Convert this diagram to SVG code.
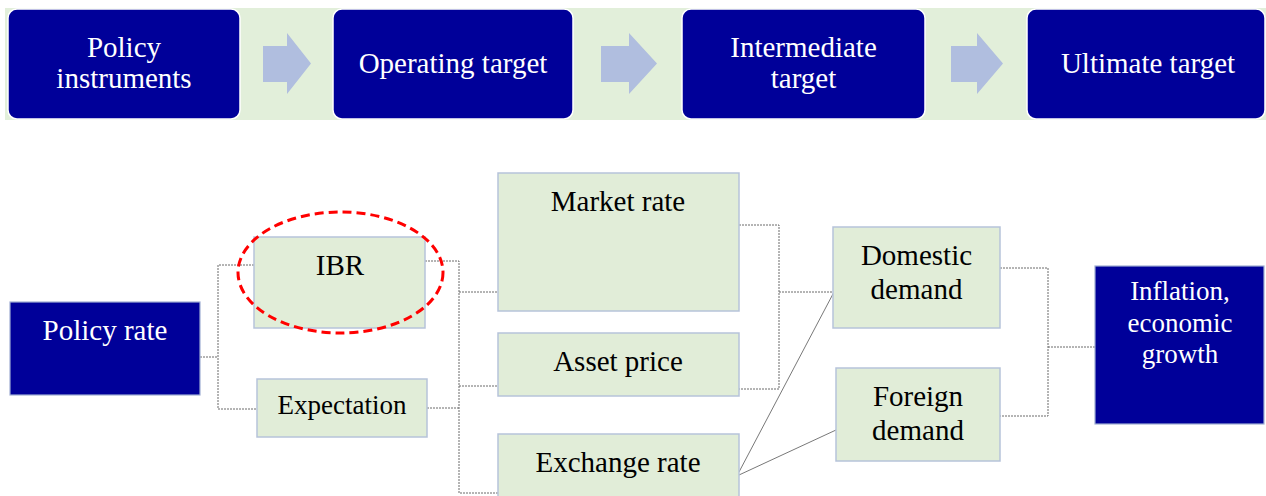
<svg xmlns="http://www.w3.org/2000/svg" width="1266" height="496" viewBox="0 0 1266 496">
  <style>
    .stage { fill: #000099; stroke: #ffffff; stroke-width: 1.5; }
    .step { fill: #b0bedf; }
    .dark { fill: #000099; stroke: #9fadd2; stroke-width: 1.2; }
    .light { fill: #e1edd8; stroke: #b6c3da; stroke-width: 1.5; }
    .wt { font-family: "Liberation Serif", "Times New Roman", serif; fill: #ffffff; text-anchor: middle; }
    .bt { font-family: "Liberation Serif", "Times New Roman", serif; fill: #000000; text-anchor: middle; }
    .dot { fill: none; stroke: #6a6a6a; stroke-width: 1; stroke-dasharray: 2 1; }
    .thin { fill: none; stroke: #555555; stroke-width: 0.8; }
  </style>

  <rect width="1266" height="496" fill="#ffffff"/>

  <!-- top process band -->
  <g id="band">
    <rect x="5" y="8" width="1261" height="112" fill="#e2efda"/>
  </g>
  <g id="stage-instruments">
    <rect class="stage" x="8" y="9" width="232" height="110" rx="9"/>
    <text class="wt" font-size="29" x="124" y="57">Policy</text>
    <text class="wt" font-size="29" x="124" y="88">instruments</text>
  </g>
  <g id="step-1"><polygon class="step" points="263,46 287,46 287,33 311,63.5 287,94 287,82 263,82"/></g>
  <g id="stage-operating">
    <rect class="stage" x="333" y="9" width="240" height="110" rx="9"/>
    <text class="wt" font-size="29" x="453" y="73">Operating target</text>
  </g>
  <g id="step-2"><polygon class="step" points="601,46 629,46 629,33 657,63.5 629,94 629,82 601,82"/></g>
  <g id="stage-intermediate">
    <rect class="stage" x="682" y="9" width="243" height="110" rx="9"/>
    <text class="wt" font-size="29" x="803.5" y="57">Intermediate</text>
    <text class="wt" font-size="29" x="803.5" y="88">target</text>
  </g>
  <g id="step-3"><polygon class="step" points="951,46 977,46 977,33 1003,63.5 977,94 977,82 951,82"/></g>
  <g id="stage-ultimate">
    <rect class="stage" x="1027" y="9" width="238" height="110" rx="9"/>
    <text class="wt" font-size="29" x="1148" y="73">Ultimate target</text>
  </g>

  <!-- transmission channels -->
  <g id="connectors">
    <polyline class="dot" points="200,357 218,357"/>
    <polyline class="dot" points="254,265 218,265 218,409 257,409"/>
    <polyline class="dot" points="425,261 459,261 459,493 498,493"/>
    <polyline class="dot" points="427,408 459,408"/>
    <polyline class="dot" points="459,292 498,292"/>
    <polyline class="dot" points="459,386 498,386"/>
    <polyline class="dot" points="739,225 779,225 779,389 739,389"/>
    <polyline class="dot" points="779,292 833,292"/>
    <polyline class="dot" points="1000,268 1048,268 1048,416 1000,416"/>
    <polyline class="dot" points="1048,347 1095,347"/>
    <line class="thin" x1="739" y1="472" x2="834" y2="292"/>
    <line class="thin" x1="739" y1="475" x2="836" y2="430"/>
  </g>

  <g id="policy-rate">
    <rect class="dark" x="10" y="302" width="190" height="93"/>
    <text class="wt" font-size="29" x="105" y="340">Policy rate</text>
  </g>
  <g id="ibr">
    <rect class="light" x="254" y="237" width="171" height="91"/>
    <text class="bt" font-size="29" x="340" y="275">IBR</text>
    <ellipse cx="340.5" cy="272.5" rx="102.5" ry="60.5" fill="none" stroke="#ff0000" stroke-width="3" stroke-dasharray="9 5"/>
  </g>
  <g id="expectation">
    <rect class="light" x="257" y="379" width="170" height="58"/>
    <text class="bt" font-size="27" x="342" y="414">Expectation</text>
  </g>
  <g id="market-rate">
    <rect class="light" x="498" y="173" width="241" height="138"/>
    <text class="bt" font-size="29" x="618" y="211">Market rate</text>
  </g>
  <g id="asset-price">
    <rect class="light" x="498" y="333" width="241" height="63"/>
    <text class="bt" font-size="29" x="618" y="371">Asset price</text>
  </g>
  <g id="exchange-rate">
    <rect class="light" x="498" y="434" width="241" height="70"/>
    <text class="bt" font-size="29" x="618" y="472">Exchange rate</text>
  </g>
  <g id="domestic-demand">
    <rect class="light" x="833" y="227" width="167" height="101"/>
    <text class="bt" font-size="29" x="916.5" y="265">Domestic</text>
    <text class="bt" font-size="29" x="916.5" y="299">demand</text>
  </g>
  <g id="foreign-demand">
    <rect class="light" x="836" y="368" width="164" height="93"/>
    <text class="bt" font-size="29" x="918" y="406">Foreign</text>
    <text class="bt" font-size="29" x="918" y="440">demand</text>
  </g>
  <g id="inflation-growth">
    <rect class="dark" x="1095" y="266" width="169" height="158"/>
    <text class="wt" font-size="27" x="1180" y="300">Inflation,</text>
    <text class="wt" font-size="27" x="1180" y="332">economic</text>
    <text class="wt" font-size="27" x="1180" y="363">growth</text>
  </g>
</svg>
